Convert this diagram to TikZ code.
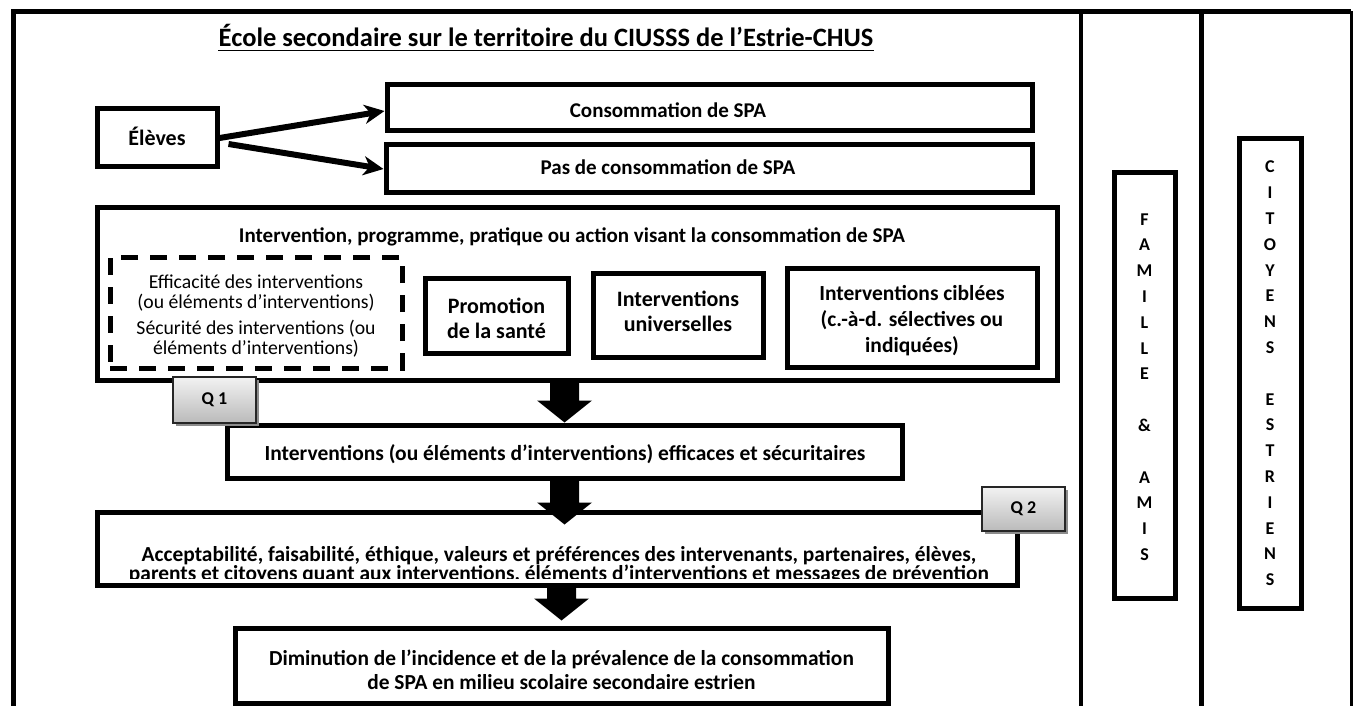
\documentclass[tikz,border=0pt]{standalone}
\usepackage{fontspec}
\setmainfont{Carlito}
\usetikzlibrary{arrows.meta,calc,shadows}
\newcommand\blockarr[2]{%
  \fill let \p1=#1, \p2=#2 in
    (\x1-14.5pt,\y1) -- (\x1+14.5pt,\y1) -- (\x1+14.5pt,\y2+22pt) --
    (\x1+27.5pt,\y2+22pt) -- (\x1,\y2) -- (\x1-27.5pt,\y2+22pt) --
    (\x1-14.5pt,\y2+22pt) -- cycle;}
\begin{document}
\begin{tikzpicture}[x=1pt,y=-1pt,
  box/.style={draw, line width=5pt, inner sep=0pt, fill=white, rectangle},
  dbox/.style={draw, line width=5pt, inner sep=0pt, dash pattern=on 17pt off 12pt, rectangle},
  btxt/.style={font=\bfseries\fontsize{21}{25}\selectfont, align=center, inner sep=0pt},
  rtxt/.style={font=\fontsize{19.7}{20}\selectfont, align=center, inner sep=0pt},
  vtxt/.style={font=\bfseries\fontsize{18}{25.8}\selectfont, align=center, inner sep=0pt},
  qbox/.style={draw=black!85, line width=1.5pt, rectangle, inner sep=0pt,
    top color=black!5, bottom color=black!27,
    drop shadow={shadow xshift=2.5pt, shadow yshift=-2.5pt, fill=black!45, opacity=1},
    font=\bfseries\fontsize{18}{20}\selectfont},
  thinarr/.style={line width=6pt, -{Stealth[length=20pt,width=19pt,inset=6pt]}}
]
\useasboundingbox (0,0) rectangle (1353,706);
\fill[white] (0,0) rectangle (1353,706);

% outer frame and columns
\draw[line width=5pt, line join=miter] (13,712) -- (13,11.5) -- (1351,11.5);
\draw[line width=4pt] (1081,11.5) -- (1081,712);
\draw[line width=5pt] (1201,11.5) -- (1201,712);
\draw[line width=3pt] (1351,11.5) -- (1351,712);

% title
\node[font=\bfseries\fontsize{26.5}{30}\selectfont, inner sep=0pt, anchor=base] (title) at (546,47)
  {École secondaire sur le territoire du CIUSSS de l’Estrie-CHUS};
\draw[line width=1.8pt] ([yshift=-3.5pt]title.base west) -- ([yshift=-3.5pt]title.base east);

% eleves and outcomes
\node[box, minimum width=120pt, minimum height=58pt] (eleves) at (157,138) {};
\node[btxt, font=\bfseries\fontsize{22}{25}\selectfont, anchor=base] (elevest) at (157,146) {Élèves};
\node[box, minimum width=645pt, minimum height=46pt] (conso) at (709.5,108) {};
\node[btxt, anchor=base] (consot) at (668,118) {Consommation de SPA};
\node[box, minimum width=646pt, minimum height=48pt] (pas) at (709,169) {};
\node[btxt, anchor=base] (past) at (668,175) {Pas de consommation de SPA};
\draw[thinarr] (eleves.east) -- ([yshift=-3pt]conso.west);
\draw[thinarr] ([xshift=9pt,yshift=-6pt]eleves.east) -- (pas.west);

% big intervention box
\node[box, minimum width=960pt, minimum height=172pt] (big) at (577,294) {};
\node[btxt, anchor=base] (bigt) at (572,242)
  {Intervention, programme, pratique ou action visant la consommation de SPA};
\node[dbox, minimum width=292pt, minimum height=111pt] (dash) at (256,312.5) {};
\node[rtxt] (dasht) at (256,316)
  {Efficacité des interventions\\(ou éléments d’interventions)\\[6pt]Sécurité des interventions (ou\\éléments d’interventions)};
\node[box, minimum width=143pt, minimum height=75pt] (promo) at (496.5,315.5) {};
\node[btxt, font=\bfseries\fontsize{22}{25}\selectfont] (promot) at (496.5,318.5) {Promotion\\de la santé};
\node[box, minimum width=170pt, minimum height=84pt] (univ) at (678,315) {};
\node[btxt, font=\bfseries\fontsize{22}{25}\selectfont] (univt) at (678,311.5) {Interventions\\universelles};
\node[box, minimum width=250pt, minimum height=99pt] (cibl) at (912,317.5) {};
\node[btxt, font=\bfseries\fontsize{21.5}{26}\selectfont] (ciblt) at (912,321) {Interventions ciblées\\(c.-à-d. sélectives ou\\indiquées)};

% chain
\node[box, minimum width=675pt, minimum height=53pt] (eff) at (564.5,451.5) {};
\node[btxt, font=\bfseries\fontsize{21.5}{25}\selectfont, anchor=base] (efft) at (565,460)
  {Interventions (ou éléments d’interventions) efficaces et sécuritaires};
\node[box, minimum width=920pt, minimum height=73pt] (acc) at (557,548.5) {};
\begin{scope}
  \clip (100,515) rectangle (1014,578);
  \node[btxt, font=\bfseries\fontsize{21.4}{19}\selectfont] (acct) at (559,565)
    {Acceptabilité, faisabilité, éthique, valeurs et préférences des intervenants, partenaires, élèves,\\parents et citoyens quant aux interventions, éléments d’interventions et messages de prévention};
\end{scope}
\node[box, minimum width=653pt, minimum height=75pt] (dim) at (561.5,665.5) {};
\node[btxt, font=\bfseries\fontsize{21.4}{24}\selectfont] (dimt) at (561.5,670)
  {Diminution de l’incidence et de la prévalence de la consommation\\de SPA en milieu scolaire secondaire estrien};

\blockarr{(big.south -| eff.north)}{(eff.north)}
\blockarr{(eff.south)}{([yshift=-15pt]acc.north -| eff.south)}
\blockarr{(acc.south -| dim.north)}{([yshift=5pt]dim.north)}

% question tags
\node[qbox, minimum width=83pt, minimum height=46pt] (q1) at (214.5,400) {Q 1};
\node[qbox, minimum width=83pt, minimum height=44pt] (q2) at (1023.5,509) {Q 2};

% side columns
\node[box, minimum width=61pt, minimum height=425pt] (fam) at (1144.5,385.5) {};
\node[vtxt] (famt) at (1144.5,387) {F\\A\\M\\I\\L\\L\\E\\\mbox{}\\\&\\\mbox{}\\A\\M\\I\\S};
\node[box, minimum width=62pt, minimum height=469pt] (cit) at (1270,373.5) {};
\node[vtxt] (citt) at (1270,373.5) {C\\I\\T\\O\\Y\\E\\N\\S\\\mbox{}\\E\\S\\T\\R\\I\\E\\N\\S};
\end{tikzpicture}
\end{document}
